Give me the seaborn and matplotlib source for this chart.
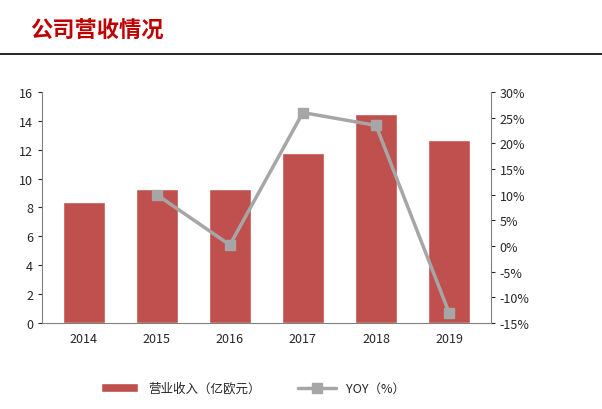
import matplotlib
matplotlib.use('Agg')
import matplotlib.pyplot as plt
import seaborn as sns
import pandas as pd
from matplotlib.ticker import FuncFormatter

years   = ['2014', '2015', '2016', '2017', '2018', '2019']
revenue = [8.4, 9.3, 9.3, 11.8, 14.5, 12.7]
yoy_years = ['2015', '2016', '2017', '2018', '2019']
yoy     = [10.0, 0.2, 26.0, 23.5, -13.0]

sns.set_style('white')
plt.rcParams['font.family'] = ['Noto Sans CJK SC', 'DejaVu Sans']

df = pd.DataFrame({'year': years, 'revenue': revenue})

fig = plt.figure(figsize=(6.02, 4.10), dpi=100)
ax = fig.add_axes([0.07, 0.21, 0.745, 0.563])

sns.barplot(data=df, x='year', y='revenue', color='#C0504D', saturation=1,
            width=0.58, ax=ax, label='营业收入（亿欧元）')
if ax.get_legend() is not None:
    ax.get_legend().remove()
ax.set_ylim(0, 16)
ax.set_yticks(range(0, 17, 2))
ax.set_xlabel('')
ax.set_ylabel('')
ax.tick_params(labelsize=9, length=3)
for s in ['top', 'right']:
    ax.spines[s].set_visible(False)
for s in ['left', 'bottom']:
    ax.spines[s].set_color('#808080')

ax2 = ax.twinx()
xpos = [years.index(y) for y in yoy_years]
ax2.plot(xpos, yoy, color='#A6A6A6', lw=2.5, marker='s', markersize=7,
         label='YOY（%）')
ax2.set_ylim(-15, 30)
ax2.set_yticks(range(-15, 31, 5))
ax2.yaxis.set_major_formatter(FuncFormatter(lambda v, p: f'{int(v)}%'))
ax2.tick_params(labelsize=9, length=3)
for s in ['top', 'left', 'bottom']:
    ax2.spines[s].set_visible(False)
ax2.spines['right'].set_color('#808080')

h1, l1 = ax.get_legend_handles_labels()
h2, l2 = ax2.get_legend_handles_labels()
fig.legend(h1 + h2, l1 + l2, loc='center', bbox_to_anchor=(0.42, 0.05),
           ncol=2, frameon=False, fontsize=9, handlelength=3, columnspacing=3)

fig.text(0.05, 0.925, '公司营收情况', color='#C00000', fontsize=16,
         fontweight='bold', va='center')
fig.add_artist(plt.Line2D([0, 1], [0.866, 0.866], color='black', lw=1.2,
                          transform=fig.transFigure))

fig.savefig('out.png', dpi=100)
